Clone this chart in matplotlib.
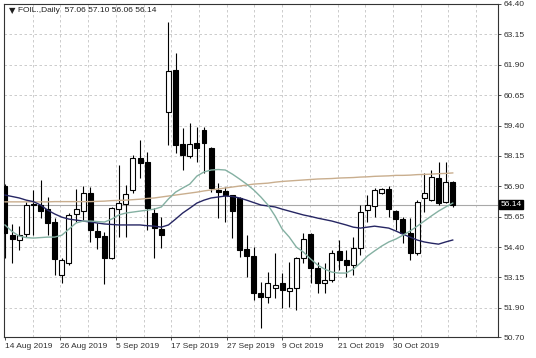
import matplotlib
matplotlib.use("Agg")
import matplotlib.pyplot as plt
from matplotlib.patches import Rectangle

plt.rcParams["font.family"] = ["Liberation Sans", "DejaVu Sans"]

# daily candles, oldest first
opens = [56.90, 54.88, 54.70, 54.92, 56.18, 56.12, 55.96, 55.42, 53.27, 53.76,
         55.75, 55.87, 56.62, 55.05, 54.84, 53.97, 55.96, 56.16, 56.74, 58.07,
         57.90, 55.80, 55.13, 59.96, 61.68, 58.64, 58.15, 58.68, 59.21, 58.47,
         56.74, 56.70, 56.54, 56.42, 54.32, 54.03, 52.51, 52.34, 52.71, 52.92,
         52.59, 52.71, 53.95, 54.93, 53.54, 52.92, 53.04, 54.24, 53.87, 53.66,
         54.36, 55.92, 56.09, 56.62, 56.79, 55.88, 55.55, 54.98, 54.15, 56.42,
         56.33, 57.24, 56.25, 57.06]
highs = [57.00, 55.34, 55.25, 56.24, 56.74, 57.16, 56.45, 55.60, 53.97, 55.79,
         56.78, 56.91, 56.87, 55.38, 55.00, 56.04, 57.78, 56.95, 58.19, 58.81,
         58.32, 56.00, 55.63, 63.66, 62.38, 59.30, 59.50, 59.34, 59.34, 58.50,
         57.03, 56.87, 56.54, 56.45, 54.89, 54.40, 52.96, 53.37, 54.15, 53.33,
         53.78, 53.99, 54.98, 54.98, 53.78, 53.74, 54.28, 54.69, 54.28, 54.81,
         56.13, 56.54, 56.83, 56.83, 56.91, 55.92, 55.64, 55.59, 56.33, 57.44,
         57.57, 57.90, 57.90, 57.10]
lows = [53.97, 53.76, 54.26, 54.80, 54.90, 55.58, 54.88, 53.25, 52.93, 53.68,
        55.42, 55.50, 54.59, 54.34, 52.89, 53.90, 54.80, 54.80, 56.62, 57.24,
        55.09, 53.97, 54.38, 58.60, 58.27, 57.57, 58.06, 57.90, 57.45, 56.66,
        55.59, 55.43, 54.77, 53.99, 53.17, 52.22, 51.07, 52.10, 52.30, 51.89,
        51.93, 51.81, 53.74, 52.92, 52.51, 52.51, 52.96, 53.45, 53.17, 53.25,
        54.07, 55.43, 55.64, 56.58, 55.64, 55.10, 54.56, 53.87, 54.07, 55.84,
        56.29, 56.13, 56.21, 56.06]
closes = [54.96, 54.72, 54.88, 56.12, 56.14, 55.87, 55.38, 53.89, 53.85, 55.71,
          55.96, 56.62, 55.09, 54.80, 53.93, 56.00, 56.21, 56.58, 58.07, 57.86,
          56.00, 55.17, 54.88, 61.64, 58.60, 58.19, 58.64, 58.47, 58.68, 56.83,
          56.66, 56.54, 55.88, 54.28, 54.03, 52.51, 52.34, 52.92, 52.84, 52.63,
          52.71, 53.95, 54.73, 53.54, 52.92, 53.04, 54.15, 53.87, 53.66, 54.36,
          55.84, 56.13, 56.75, 56.79, 55.96, 55.55, 54.98, 54.15, 56.25, 56.62,
          57.28, 56.21, 57.07, 56.14]

# moving averages
ma_fast = [55.31, 55.04, 54.85, 54.79, 54.77, 54.79, 54.81, 54.81, 54.89, 55.14,
           55.39, 55.47, 55.47, 55.45, 55.43, 55.55, 55.72, 55.80, 55.84, 55.88,
           55.92, 55.96, 56.05, 56.38, 56.66, 56.83, 56.99, 57.32, 57.49, 57.57,
           57.59, 57.57, 57.40, 57.20, 56.99, 56.75, 56.46, 56.13, 55.68, 55.14,
           54.81, 54.40, 54.19, 53.91, 53.66, 53.49, 53.37, 53.33, 53.33, 53.49,
           53.74, 54.03, 54.24, 54.44, 54.61, 54.73, 54.89, 55.06, 55.26, 55.47,
           55.68, 55.88, 56.05, 56.21]
ma_mid = [56.54, 56.48, 56.42, 56.33, 56.27, 56.13, 55.92, 55.76, 55.63, 55.55,
          55.51, 55.47, 55.43, 55.39, 55.35, 55.33, 55.31, 55.31, 55.31, 55.31,
          55.28, 55.26, 55.22, 55.31, 55.55, 55.80, 56.00, 56.21, 56.33, 56.42,
          56.46, 56.50, 56.48, 56.42, 56.33, 56.23, 56.13, 56.09, 56.05, 55.96,
          55.88, 55.80, 55.72, 55.66, 55.59, 55.53, 55.47, 55.39, 55.31, 55.22,
          55.18, 55.22, 55.26, 55.22, 55.18, 55.06, 54.93, 54.81, 54.69, 54.61,
          54.56, 54.52, 54.61, 54.69]
ma_slow = [56.26, 56.26, 56.26, 56.26, 56.26, 56.26, 56.26, 56.27, 56.27, 56.27,
           56.27, 56.27, 56.27, 56.28, 56.29, 56.31, 56.32, 56.33, 56.35, 56.37,
           56.40, 56.42, 56.46, 56.50, 56.54, 56.58, 56.62, 56.66, 56.71, 56.75,
           56.79, 56.83, 56.87, 56.91, 56.95, 56.99, 57.01, 57.03, 57.07, 57.10,
           57.12, 57.14, 57.16, 57.18, 57.20, 57.21, 57.22, 57.24, 57.25, 57.26,
           57.28, 57.29, 57.31, 57.32, 57.33, 57.35, 57.35, 57.36, 57.38, 57.39,
           57.40, 57.42, 57.43, 57.45]

date_labels = ["14 Aug 2019", "26 Aug 2019", "5 Sep 2019", "17 Sep 2019",
               "27 Sep 2019", "9 Oct 2019", "21 Oct 2019", "30 Oct 2019"]
price_ticks = [64.40, 63.15, 61.90, 60.65, 59.40, 58.15, 56.90, 55.65,
               54.40, 53.15, 51.90, 50.70]
last_price = 56.14

fig = plt.figure(figsize=(5.36, 3.58), dpi=100)
ax = fig.add_axes([4 / 536, 21 / 358, 494 / 536, 333 / 358])

n = len(closes)
label_step = 7.8
ax.set_xlim(-0.14, 69.37)
ax.set_ylim(50.70, 64.40)

grid_kw = dict(color="#c4c4c4", lw=0.6, ls=(0, (3, 3)), zorder=0)
for p in price_ticks[1:-1]:
    ax.axhline(p, **grid_kw)
k = 1
while k * label_step / 2 < 69.3:
    ax.axvline(k * label_step / 2, **grid_kw)
    k += 1

ax.axhline(last_price, color="#a8a8a8", lw=0.8, zorder=1)

w = 0.7
for i in range(n):
    o, h, l, c = opens[i], highs[i], lows[i], closes[i]
    ax.vlines(i, l, h, color="black", lw=0.8, zorder=2)
    body = max(abs(c - o), 0.02)
    ax.add_patch(Rectangle((i - w / 2, min(o, c)), w, body,
                           facecolor="white" if c >= o else "black",
                           edgecolor="black", lw=0.8, zorder=3))

x = range(n)
ax.plot(x, ma_slow, color="#c9ae8e", lw=1.0, zorder=4)
ax.plot(x, ma_mid, color="#262663", lw=1.0, zorder=4)
ax.plot(x, ma_fast, color="#84b0a2", lw=1.0, zorder=4)

ax.yaxis.tick_right()
ax.set_yticks(price_ticks)
ax.set_yticklabels([f"{p:.2f}" for p in price_ticks])
ax.set_xticks([j * label_step for j in range(len(date_labels))])
ax.set_xticklabels(date_labels)
for t in ax.get_xticklabels():
    t.set_ha("left")
ax.tick_params(axis="both", labelsize=6, colors="#303030", length=2.5,
               width=0.6, pad=1.5)
for s in ax.spines.values():
    s.set_color("#333333")
    s.set_linewidth(0.8)

ax.text(1.005, last_price, f"{last_price:.2f}", transform=ax.get_yaxis_transform(),
        ha="left", va="center", fontsize=6, color="white", zorder=6,
        bbox=dict(boxstyle="square,pad=0.12", fc="black", ec="black"),
        clip_on=False)

fig.text(9 / 536, 1 - 11 / 358, "\u25bc", fontsize=6, color="#202020",
         ha="left", va="center", family=["DejaVu Sans"])
fig.text(18 / 536, 1 - 11 / 358,
         f"FOIL.,Daily  {opens[-1]:.2f} {highs[-1]:.2f} {lows[-1]:.2f} {closes[-1]:.2f}",
         fontsize=6, color="#202020", ha="left", va="center")

fig.savefig("out.png", dpi=100, facecolor="white")
